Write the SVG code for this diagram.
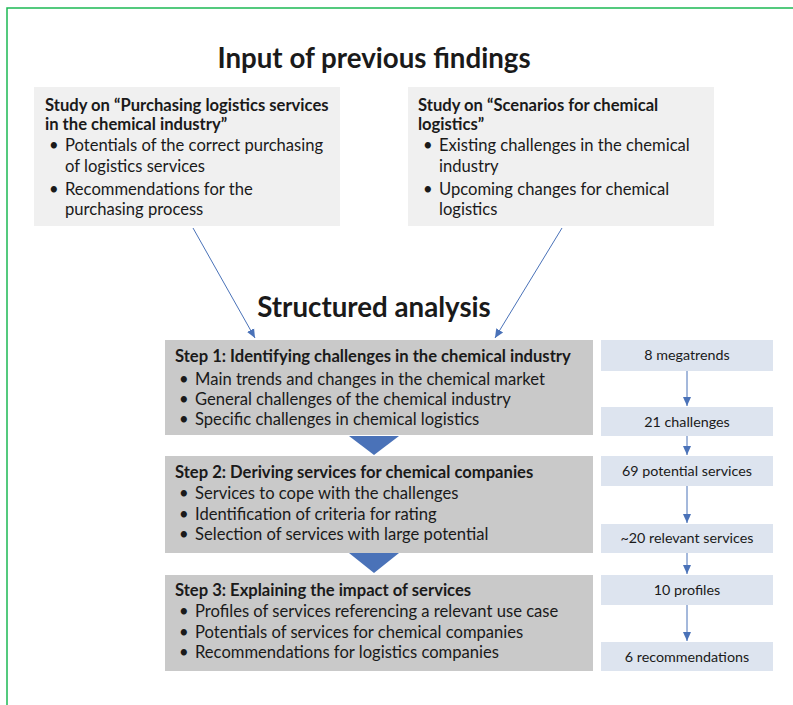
<svg xmlns="http://www.w3.org/2000/svg" width="793" height="705" viewBox="0 0 793 705">
<defs>
<style>
text{font-family:Lato,"Open Sans","Liberation Sans",sans-serif;fill:#1a1a1a}
.h{font-size:27.7px;font-weight:bold;text-anchor:middle}
.b{font-size:16.6px;font-weight:bold}
.t{font-size:16.6px}
.r{font-size:14.3px;text-anchor:middle}
.top{fill:#f0f0f0}
.step{fill:#c9c9c9}
.rb{fill:#dde4ef}
.ln{stroke:#4a72b8;stroke-width:1;fill:none}
.tri{fill:#4a72b8}
</style>
<marker id="ah" markerWidth="10" markerHeight="10" refX="9" refY="5" orient="auto" markerUnits="userSpaceOnUse">
<path d="M0,1 L9,5 L0,9 Z" fill="#4a72b8"/>
</marker>
</defs>
<rect width="793" height="705" fill="#ffffff"/>
<path d="M7,705 L7,8 L793,8" fill="none" stroke="#1db954" stroke-width="1.5"/>

<text class="h" x="374" y="68">Input of previous findings</text>
<text class="h" x="374" y="317">Structured analysis</text>

<g id="study1">
<rect class="top" x="34" y="87" width="306" height="139"/>
<text class="b" x="45" y="111">Study on “Purchasing logistics services</text>
<text class="b" x="45" y="130">in the chemical industry”</text>
<text class="t" x="49" y="151">•</text><text class="t" x="65" y="151">Potentials of the correct purchasing</text>
<text class="t" x="65" y="172">of logistics services</text>
<text class="t" x="49" y="195">•</text><text class="t" x="65" y="195">Recommendations for the</text>
<text class="t" x="65" y="215">purchasing process</text>
</g>

<g id="study2">
<rect class="top" x="408" y="87" width="306" height="139"/>
<text class="b" x="418" y="111">Study on “Scenarios for chemical</text>
<text class="b" x="418" y="130">logistics”</text>
<text class="t" x="423" y="151">•</text><text class="t" x="439" y="151">Existing challenges in the chemical</text>
<text class="t" x="439" y="172">industry</text>
<text class="t" x="423" y="195">•</text><text class="t" x="439" y="195">Upcoming changes for chemical</text>
<text class="t" x="439" y="215">logistics</text>
</g>

<g id="step1">
<rect class="step" x="165" y="340" width="428" height="95"/>
<text class="b" x="175" y="362">Step 1: Identifying challenges in the chemical industry</text>
<text class="t" x="179" y="385">•</text><text class="t" x="195" y="385">Main trends and changes in the chemical market</text>
<text class="t" x="179" y="405">•</text><text class="t" x="195" y="405">General challenges of the chemical industry</text>
<text class="t" x="179" y="425">•</text><text class="t" x="195" y="425">Specific challenges in chemical logistics</text>
</g>

<g id="step2">
<rect class="step" x="165" y="456" width="428" height="97"/>
<text class="b" x="175" y="478">Step 2: Deriving services for chemical companies</text>
<text class="t" x="179" y="499">•</text><text class="t" x="195" y="499">Services to cope with the challenges</text>
<text class="t" x="179" y="520">•</text><text class="t" x="195" y="520">Identification of criteria for rating</text>
<text class="t" x="179" y="540">•</text><text class="t" x="195" y="540">Selection of services with large potential</text>
</g>

<g id="step3">
<rect class="step" x="165" y="575" width="428" height="96"/>
<text class="b" x="175" y="596">Step 3: Explaining the impact of services</text>
<text class="t" x="179" y="617">•</text><text class="t" x="195" y="617">Profiles of services referencing a relevant use case</text>
<text class="t" x="179" y="638">•</text><text class="t" x="195" y="638">Potentials of services for chemical companies</text>
<text class="t" x="179" y="658">•</text><text class="t" x="195" y="658">Recommendations for logistics companies</text>
</g>

<g id="r1"><rect class="rb" x="601" y="340" width="172" height="31"/><text class="r" x="687" y="360">8 megatrends</text></g>
<g id="r2"><rect class="rb" x="601" y="407" width="172" height="29"/><text class="r" x="687" y="427">21 challenges</text></g>
<g id="r3"><rect class="rb" x="601" y="456" width="172" height="30"/><text class="r" x="687" y="476">69 potential services</text></g>
<g id="r4"><rect class="rb" x="601" y="524" width="172" height="29"/><text class="r" x="687" y="543">~20 relevant services</text></g>
<g id="r5"><rect class="rb" x="601" y="575" width="172" height="30"/><text class="r" x="687" y="595">10 profiles</text></g>
<g id="r6"><rect class="rb" x="601" y="642" width="172" height="29"/><text class="r" x="687" y="662">6 recommendations</text></g>

<g id="connectors">
<line class="ln" x1="193" y1="228" x2="255" y2="338" marker-end="url(#ah)"/>
<line class="ln" x1="562" y1="228" x2="495" y2="338" marker-end="url(#ah)"/>
<path class="tri" d="M349,436 L399,436 L374,455 Z"/>
<path class="tri" d="M349,553 L399,553 L374,573 Z"/>
<line class="ln" x1="687" y1="371" x2="687" y2="406" marker-end="url(#ah)"/>
<line class="ln" x1="687" y1="436" x2="687" y2="455" marker-end="url(#ah)"/>
<line class="ln" x1="687" y1="486" x2="687" y2="523" marker-end="url(#ah)"/>
<line class="ln" x1="687" y1="553" x2="687" y2="574" marker-end="url(#ah)"/>
<line class="ln" x1="687" y1="605" x2="687" y2="641" marker-end="url(#ah)"/>
</g>
</svg>
